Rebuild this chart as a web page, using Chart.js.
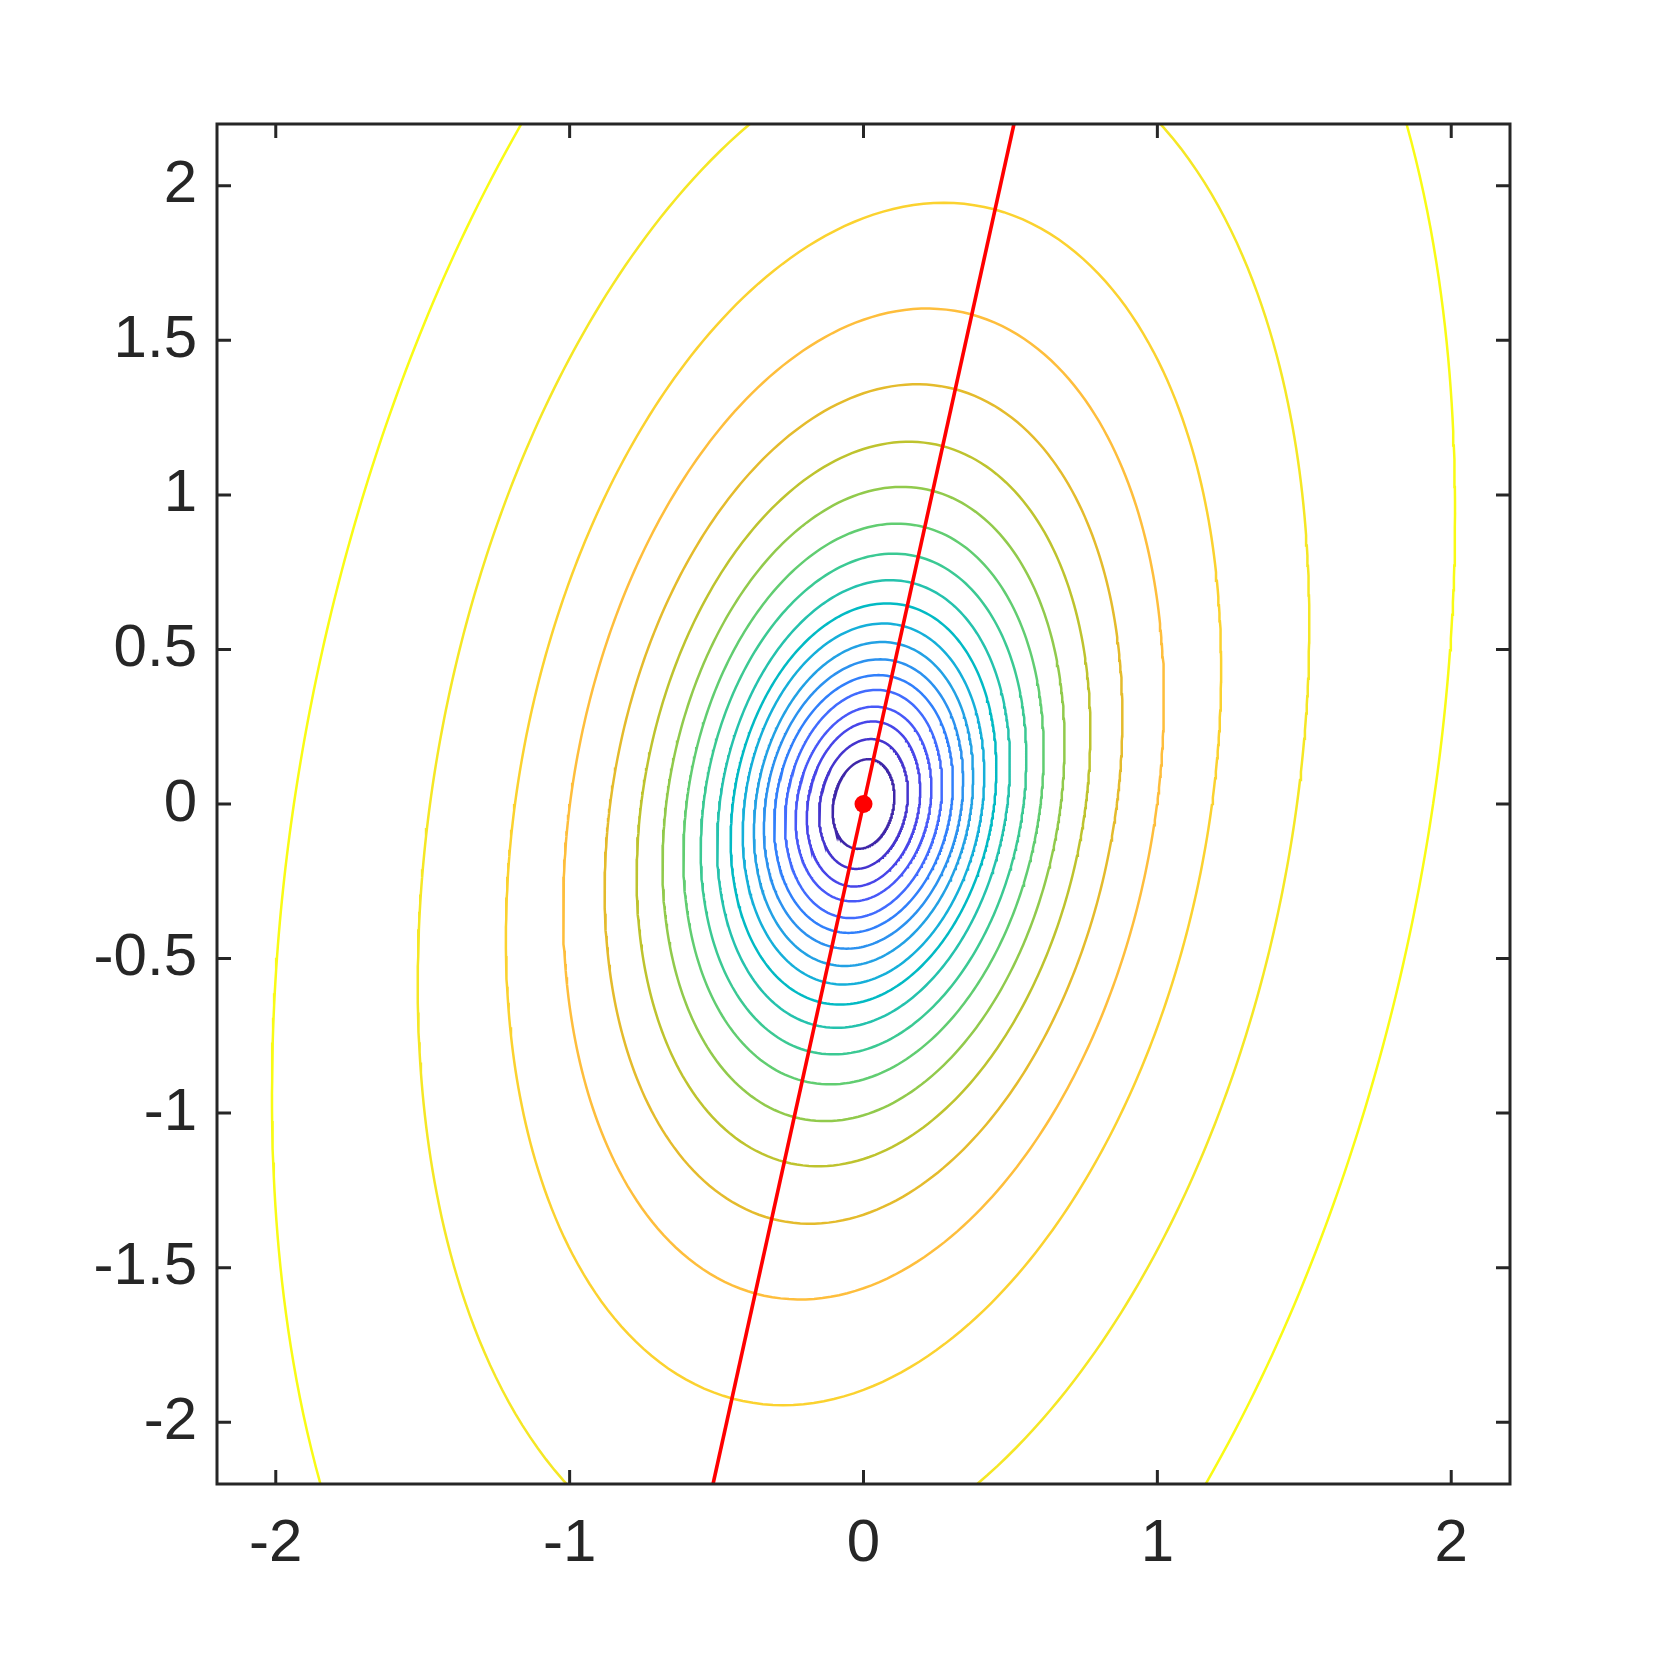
<!DOCTYPE html>
<html><head><meta charset="utf-8">
<script src="https://cdn.jsdelivr.net/npm/chart.js@4.4.1/dist/chart.umd.min.js"></script>
<style>html,body{margin:0;padding:0;background:#fff;}canvas{display:block;}</style>
</head><body>
<canvas id="c" width="1667" height="1667" style="width:1667px;height:1667px"></canvas>
<script>
// ---- data (inner -> outer contour) ----
// highest point of each contour (y) and its x position, and the half width (max x)
const contourTopY  = [0.145, 0.210, 0.267, 0.315, 0.369, 0.417, 0.468, 0.524, 0.584, 0.649, 0.724, 0.810, 0.907, 1.026, 1.172, 1.358, 1.603, 1.945, 2.498, 3.495];
const contourTopX  = [0.017, 0.025, 0.032, 0.038, 0.044, 0.050, 0.056, 0.063, 0.068, 0.080, 0.091, 0.102, 0.114, 0.131, 0.154, 0.182, 0.216, 0.273, 0.354, 0.543];
const contourSideX = [0.105, 0.151, 0.193, 0.231, 0.267, 0.304, 0.339, 0.373, 0.411, 0.452, 0.498, 0.554, 0.613, 0.684, 0.772, 0.881, 1.022, 1.217, 1.517, 2.013];
const contourLevelIndex = [1,2,3,4,5,6,7,8,9,10,11,12,13,14,15,16,17,18,19,20];
const redLineX = [-0.512, 0.512];
const redLineY = [-2.2, 2.2];
const minPointX = [0];
const minPointY = [0];
const axisMin = -2.2, axisMax = 2.2;
const xTickValues = [-2, -1, 0, 1, 2];
const xTickLabels = ['-2', '-1', '0', '1', '2'];
const yTickValues = [-2, -1.5, -1, -0.5, 0, 0.5, 1, 1.5, 2];
const yTickLabels = ['-2', '-1.5', '-1', '-0.5', '0', '0.5', '1', '1.5', '2'];

// ---- style: parula colormap ----
const PARULA = [[0.2422,0.1504,0.6603],[0.2504,0.1650,0.7076],[0.2578,0.1818,0.7511],[0.2647,0.1978,0.7952],[0.2706,0.2147,0.8364],[0.2751,0.2342,0.8710],[0.2783,0.2559,0.8991],[0.2803,0.2782,0.9221],[0.2813,0.3006,0.9414],[0.2810,0.3228,0.9579],[0.2795,0.3447,0.9717],[0.2760,0.3667,0.9829],[0.2699,0.3892,0.9906],[0.2602,0.4123,0.9952],[0.2440,0.4358,0.9988],[0.2206,0.4603,0.9973],[0.1963,0.4847,0.9892],[0.1834,0.5074,0.9798],[0.1786,0.5289,0.9682],[0.1764,0.5499,0.9520],[0.1687,0.5703,0.9359],[0.1540,0.5902,0.9218],[0.1460,0.6091,0.9079],[0.1380,0.6276,0.8973],[0.1248,0.6459,0.8883],[0.1113,0.6635,0.8763],[0.0952,0.6798,0.8598],[0.0689,0.6948,0.8394],[0.0297,0.7082,0.8163],[0.0036,0.7203,0.7917],[0.0067,0.7312,0.7660],[0.0433,0.7411,0.7394],[0.0964,0.7500,0.7120],[0.1408,0.7584,0.6842],[0.1717,0.7670,0.6554],[0.1938,0.7758,0.6251],[0.2161,0.7843,0.5923],[0.2470,0.7918,0.5567],[0.2906,0.7973,0.5188],[0.3406,0.8008,0.4789],[0.3909,0.8029,0.4354],[0.4456,0.8024,0.3909],[0.5044,0.7993,0.3480],[0.5616,0.7942,0.3045],[0.6174,0.7876,0.2612],[0.6720,0.7793,0.2227],[0.7242,0.7698,0.1910],[0.7738,0.7598,0.1646],[0.8203,0.7498,0.1535],[0.8634,0.7406,0.1596],[0.9035,0.7330,0.1774],[0.9393,0.7288,0.2100],[0.9728,0.7298,0.2394],[0.9956,0.7434,0.2371],[0.9970,0.7659,0.2199],[0.9952,0.7893,0.2028],[0.9892,0.8136,0.1885],[0.9786,0.8386,0.1766],[0.9676,0.8639,0.1643],[0.9610,0.8890,0.1537],[0.9597,0.9135,0.1423],[0.9628,0.9373,0.1265],[0.9691,0.9606,0.1064],[0.9769,0.9839,0.0805]];
function parula(t){
  const f = Math.max(0, Math.min(1, t)) * (PARULA.length - 1);
  const i = Math.min(PARULA.length - 2, Math.floor(f)), u = f - i;
  const c = PARULA[i].map((v, k) => v + (PARULA[i+1][k] - v) * u);
  return 'rgb(' + c.map(v => Math.round(v * 255)).join(',') + ')';
}

// closed contour through the read top point and side extent (centred on the minimum)
function contourPoints(yt, xt, xs, n){
  const a = 1 / (xs*xs - xt*xt);
  const b = -(xt / yt) * a;
  const c = a * xs * xs / (yt * yt);
  const pts = [];
  for (let i = 0; i <= n; i++){
    const th = 2 * Math.PI * i / n, co = Math.cos(th), si = Math.sin(th);
    const r = 1 / Math.sqrt(a*co*co + 2*b*co*si + c*si*si);
    pts.push({x: r*co, y: r*si});
  }
  return pts;
}

const FONT = "'Liberation Sans', Arial, Helvetica, sans-serif";
const datasets = [];
datasets.push({
  label: 'minimum', data: minPointX.map((x, i) => ({x, y: minPointY[i]})),
  pointRadius: 9, pointBackgroundColor: '#ff0000', pointBorderWidth: 0, showLine: false, order: 0
});
datasets.push({
  label: 'line', data: redLineX.map((x, i) => ({x, y: redLineY[i]})),
  showLine: true, borderColor: '#ff0000', borderWidth: 3.6, pointRadius: 0, order: 1
});
const nLev = contourLevelIndex.length;
contourLevelIndex.forEach((lev, k) => {
  datasets.push({
    label: 'level ' + lev,
    data: contourPoints(contourTopY[k], contourTopX[k], contourSideX[k], 360),
    showLine: true, borderColor: parula((lev - 1) / (nLev - 1)), borderWidth: 2.5,
    pointRadius: 0, order: 2
  });
});

const frame = {
  id: 'frame',
  afterDatasetsDraw(chart){
    const {ctx, chartArea: ca, scales: {x, y}} = chart;
    ctx.save();
    ctx.strokeStyle = '#262626';
    ctx.lineWidth = 3;
    ctx.beginPath();
    const L = 14;
    xTickValues.forEach(v => {
      const p = x.getPixelForValue(v);
      ctx.moveTo(p, ca.bottom); ctx.lineTo(p, ca.bottom - L);
      ctx.moveTo(p, ca.top); ctx.lineTo(p, ca.top + L);
    });
    yTickValues.forEach(v => {
      const p = y.getPixelForValue(v);
      ctx.moveTo(ca.left, p); ctx.lineTo(ca.left + L, p);
      ctx.moveTo(ca.right, p); ctx.lineTo(ca.right - L, p);
    });
    ctx.stroke();
    ctx.lineJoin = 'miter';
    ctx.strokeRect(ca.left, ca.top, ca.right - ca.left, ca.bottom - ca.top);
    ctx.restore();
  }
};

new Chart(document.getElementById('c'), {
  type: 'scatter',
  data: {datasets},
  plugins: [frame],
  options: {
    responsive: false, animation: false, devicePixelRatio: 1,
    layout: {padding: {left: 0, right: 157, top: 124, bottom: 0}},
    plugins: {legend: {display: false}, tooltip: {enabled: false}},
    elements: {line: {tension: 0, fill: false}},
    scales: {
      x: {
        type: 'linear', min: axisMin, max: axisMax,
        grid: {display: false, drawTicks: false}, border: {display: false},
        afterBuildTicks: s => { s.ticks = xTickValues.map(v => ({value: v})); },
        afterFit: s => { s.height = 183; },
        ticks: {autoSkip: false, maxRotation: 0, padding: 24, color: '#262626',
          font: {family: FONT, size: 60},
          callback: v => xTickLabels[xTickValues.indexOf(v)]}
      },
      y: {
        type: 'linear', min: axisMin, max: axisMax,
        grid: {display: false, drawTicks: false}, border: {display: false},
        afterBuildTicks: s => { s.ticks = yTickValues.map(v => ({value: v})); },
        afterFit: s => { s.width = 217; },
        ticks: {autoSkip: false, padding: 20, color: '#262626',
          font: {family: FONT, size: 60},
          callback: v => yTickLabels[yTickValues.indexOf(v)]}
      }
    }
  }
});
</script>
</body></html>
